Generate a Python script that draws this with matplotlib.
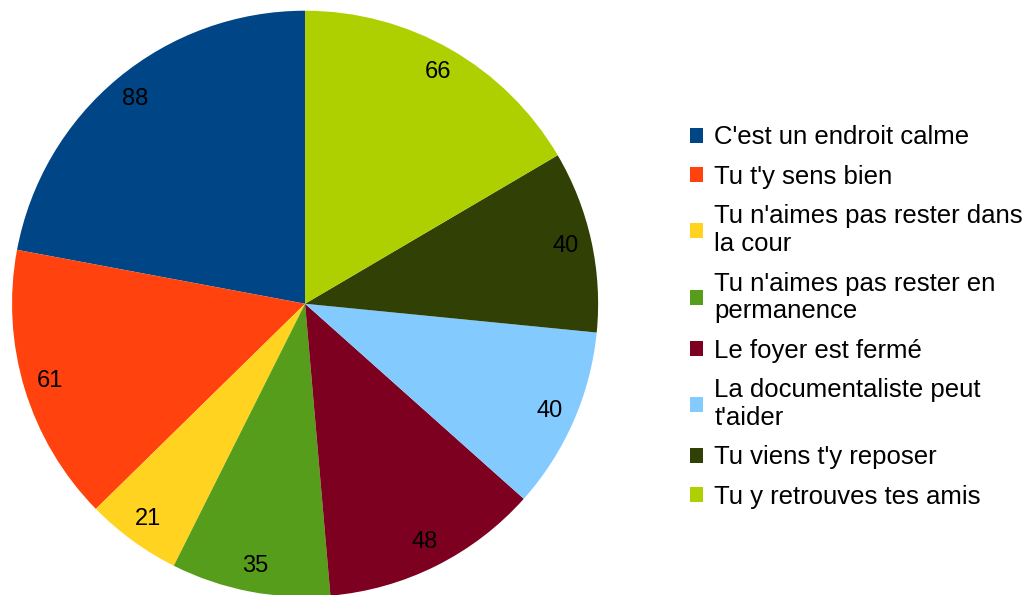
import matplotlib.pyplot as plt
from matplotlib.patches import Patch

plt.rcParams['font.family'] = ['Liberation Sans', 'DejaVu Sans']

names = [
    "C'est un endroit calme",
    "Tu t'y sens bien",
    "Tu n'aimes pas rester dans\nla cour",
    "Tu n'aimes pas rester en\npermanence",
    "Le foyer est fermé",
    "La documentaliste peut\nt'aider",
    "Tu viens t'y reposer",
    "Tu y retrouves tes amis",
]
values = [88, 61, 21, 35, 48, 40, 40, 66]
colors = ['#004586', '#ff420e', '#ffd320', '#579d1c',
          '#7e0021', '#83caff', '#314004', '#aecf00']

fig = plt.figure(figsize=(10.3, 5.95), dpi=100)
ax = fig.add_axes([0.0117, -0.003, 0.569, 0.985])

wedges, texts = ax.pie(values, labels=[str(v) for v in values], colors=colors,
                       startangle=90, counterclock=True, labeldistance=0.91,
                       textprops={'fontsize': 17, 'color': 'black',
                                  'ha': 'center', 'va': 'center'})
ax.set_xlim(-1, 1)
ax.set_ylim(-1, 1)
ax.set_aspect('equal')

handles = [Patch(facecolor=c, edgecolor='none') for c in colors]
leg = fig.legend(handles, names, loc='center left', bbox_to_anchor=(0.66, 0.467),
                 frameon=False, fontsize=18.5, handlelength=0.5, handleheight=0.5,
                 handletextpad=0.45, labelspacing=0.6, borderaxespad=0)
for t in leg.get_texts():
    t.set_linespacing(1.2)

fig.savefig('out.png', dpi=100)
